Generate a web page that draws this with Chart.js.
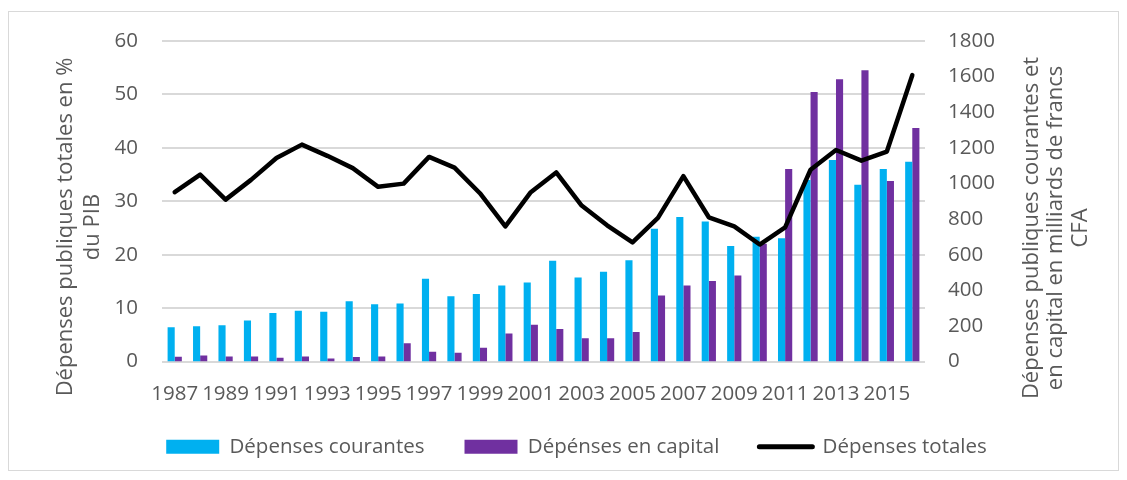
<!DOCTYPE html>
<html>
<head>
<meta charset="utf-8">
<script src="https://cdn.jsdelivr.net/npm/chart.js@4/dist/chart.umd.min.js"></script>
<style>
  html, body { margin: 0; padding: 0; background: #fff; }
</style>
</head>
<body>
<canvas id="depensesChart" width="1127" height="480"></canvas>
<script>
const years = ['1987', '1988', '1989', '1990', '1991', '1992', '1993', '1994', '1995', '1996',
  '1997', '1998', '1999', '2000', '2001', '2002', '2003', '2004', '2005', '2006',
  '2007', '2008', '2009', '2010', '2011', '2012', '2013', '2014', '2015', '2016'];

// milliards de francs CFA (axe de droite)
const depCourantes = [192, 198, 204, 230, 273, 285, 279, 338, 321, 326,
  465, 366, 379, 427, 444, 566, 472, 504, 569, 745,
  812, 786, 648, 700, 692, 1020, 1132, 992, 1081, 1122];
const depCapital = [26, 34, 28, 28, 21, 28, 17, 25, 28, 102,
  55, 49, 77, 157, 206, 183, 131, 131, 166, 370,
  427, 452, 483, 662, 1081, 1513, 1585, 1636, 1014, 1311];

// % du PIB (axe de gauche)
const depTotales = [31.7, 35.0, 30.3, 34.0, 38.1, 40.6, 38.5, 36.2, 32.7, 33.3,
  38.3, 36.3, 31.5, 25.3, 31.7, 35.4, 29.2, 25.5, 22.3, 26.9,
  34.7, 27.0, 25.3, 21.9, 25.1, 35.9, 39.6, 37.6, 39.3, 53.6];

const leftTicks = { min: 0, max: 60, step: 10 };
const rightTicks = { min: 0, max: 1800, step: 200 };

const leftTitle = ['Dépenses publiques totales en %', 'du PIB'];
const rightTitle = ['Dépenses publiques courantes et', 'en capital en milliards de francs', 'CFA'];

const textColor = '#595959';
const fontFamily = "'Open Sans', sans-serif";
Chart.defaults.font.family = fontFamily;

function drawRotated(ctx, lines, baselines, centerY) {
  ctx.save();
  ctx.fillStyle = textColor;
  ctx.font = '22px ' + fontFamily;
  ctx.textAlign = 'center';
  ctx.textBaseline = 'alphabetic';
  ctx.translate(0, centerY);
  ctx.rotate(-Math.PI / 2);
  lines.forEach((line, i) => ctx.fillText(line, 0, baselines[i]));
  ctx.restore();
}

const frameAndTitles = {
  id: 'frameAndTitles',
  afterLayout(chart) {
    // pull the legend up closer to the axis labels
    chart.legend.top -= 13;
    chart.legend.bottom -= 13;
  },
  beforeDraw(chart) {
    const c = chart.ctx;
    c.save();
    c.fillStyle = '#fff';
    c.fillRect(0, 0, chart.width, chart.height);
    c.strokeStyle = '#d9d9d9';
    c.lineWidth = 1;
    c.strokeRect(8.5, 11.5, 1110, 459);
    c.restore();
  },
  afterDraw(chart) {
    drawRotated(chart.ctx, leftTitle, [72, 99], 227);
    drawRotated(chart.ctx, rightTitle, [1038, 1062, 1087], 228);
  }
};

const tickFont = { size: 20.5 };

new Chart(document.getElementById('depensesChart'), {
  data: {
    labels: years,
    datasets: [
      {
        type: 'bar',
        label: 'Dépenses courantes',
        data: depCourantes,
        yAxisID: 'y1',
        backgroundColor: '#00b0f0',
        borderWidth: 0,
        categoryPercentage: 0.56,
        barPercentage: 1.0,
        order: 1
      },
      {
        type: 'bar',
        label: 'Dépénses en capital',
        data: depCapital,
        yAxisID: 'y1',
        backgroundColor: '#7030a0',
        borderWidth: 0,
        categoryPercentage: 0.56,
        barPercentage: 1.0,
        order: 1
      },
      {
        type: 'line',
        label: 'Dépenses totales',
        data: depTotales,
        yAxisID: 'y',
        borderColor: '#000',
        backgroundColor: '#000',
        borderWidth: 4.5,
        borderJoinStyle: 'round',
        borderCapStyle: 'round',
        pointRadius: 0,
        tension: 0,
        order: 0
      }
    ]
  },
  options: {
    responsive: false,
    animation: false,
    layout: { padding: { left: 26, right: 0, top: 41, bottom: 0 } },
    plugins: {
      tooltip: { enabled: false },
      legend: {
        position: 'bottom',
        labels: {
          color: textColor,
          font: { size: 20.5 },
          usePointStyle: true,
          pointStyleWidth: 53,
          boxHeight: 14,
          padding: 40,
          sort: (a, b) => a.datasetIndex - b.datasetIndex,
          generateLabels(chart) {
            const items = Chart.defaults.plugins.legend.labels.generateLabels(chart);
            items.forEach(it => {
              const ds = chart.data.datasets[it.datasetIndex];
              if (ds.type === 'line') {
                it.pointStyle = 'line';
                it.lineWidth = 5;
                it.lineCap = 'round';
              } else {
                it.pointStyle = 'rect';
                it.lineWidth = 0;
              }
            });
            return items;
          }
        }
      }
    },
    scales: {
      x: {
        offset: true,
        grid: { display: false, drawTicks: false },
        border: { display: false },
        ticks: {
          color: textColor,
          font: tickFont,
          padding: 20,
          autoSkip: false,
          maxRotation: 0,
          callback: (v, i) => (i % 2 === 0 ? years[i] : '')
        },
        afterFit(s) { s.height = 48; }
      },
      y: {
        position: 'left',
        min: leftTicks.min,
        max: leftTicks.max,
        ticks: { stepSize: leftTicks.step, color: textColor, font: tickFont, padding: 24 },
        grid: { color: '#d9d9d9', lineWidth: 2, drawTicks: false },
        border: { display: false },
        afterFit(s) { s.width = 136; }
      },
      y1: {
        position: 'right',
        min: rightTicks.min,
        max: rightTicks.max,
        ticks: {
          stepSize: rightTicks.step, color: textColor, font: tickFont, padding: 23,
          callback: v => String(v)
        },
        grid: { display: false, drawTicks: false },
        border: { display: false },
        afterFit(s) { s.width = 202; }
      }
    }
  },
  plugins: [frameAndTitles]
});
</script>
</body>
</html>
